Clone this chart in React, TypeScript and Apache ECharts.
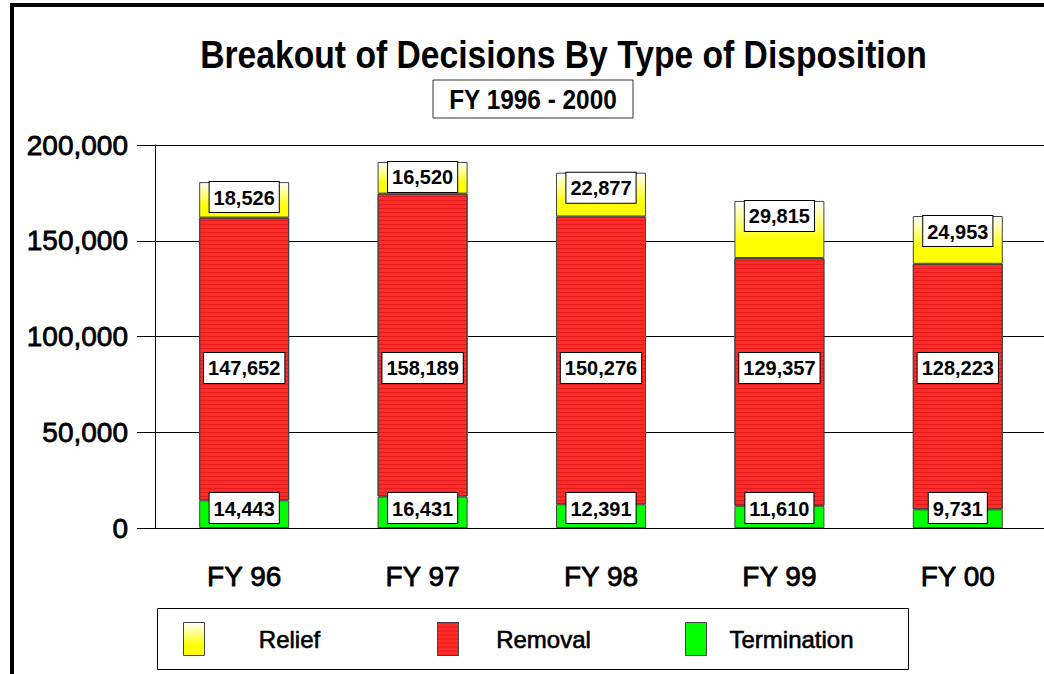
import React, { useEffect, useRef } from "react";
import * as echarts from "echarts";

const categories = ["FY 96", "FY 97", "FY 98", "FY 99", "FY 00"];
const relief = [18526, 16520, 22877, 29815, 24953];
const removal = [147652, 158189, 150276, 129357, 128223];
const termination = [14443, 16431, 12391, 11610, 9731];
const seriesNames = ["Relief", "Removal", "Termination"];
const yMin = 0;
const yMax = 200000;
const yInterval = 50000;
const titleText = "Breakout of Decisions By Type of Disposition";
const subtitleText = "FY 1996 - 2000";
// value level at which the reference places the Removal labels
const removalLabelLevel = 83500;

const FONT = '"Liberation Sans", Arial, sans-serif';

function measure(text: string, font: string): number {
  const c = document.createElement("canvas").getContext("2d");
  if (!c) return text.length * 20;
  c.font = font;
  return c.measureText(text).width;
}

const fmt = (v: number) => v.toLocaleString("en-US");

const labelBox = {
  show: true,
  color: "#000",
  fontFamily: FONT,
  fontWeight: "bold" as const,
  fontSize: 20,
  lineHeight: 23,
  backgroundColor: "#fff",
  borderColor: "#000",
  borderWidth: 1,
  padding: [4, 4, 3, 4],
  formatter: (p: any) => fmt(p.value),
};

const legendLefts = [183, 437, 685];

export default function App() {
  const ref = useRef<HTMLDivElement>(null);
  useEffect(() => {
    if (!ref.current) return;
    const chart = echarts.init(ref.current, null, { renderer: "svg" });
    const titleFont = `bold 38px ${FONT}`;
    const titleScale = 727 / measure(titleText, titleFont);
    const subFont = `bold 27px ${FONT}`;
    const subScale = 168 / measure(subtitleText, subFont);

    const reliefGrad = new echarts.graphic.LinearGradient(0, 0, 0, 1, [
      { offset: 0, color: "#ffffff" },
      { offset: 0.7, color: "#ffff00" },
      { offset: 1, color: "#ffff00" },
    ]);

    const buildOption = (removalOffsets: number[]) => ({
      animation: false,
      backgroundColor: "#fff",
      textStyle: { fontFamily: FONT },
      graphic: [
        {
          type: "rect",
          shape: { x: 12, y: 5, width: 1200, height: 900 },
          style: { fill: "none", stroke: "#000", lineWidth: 4 },
          silent: true,
        },
        {
          type: "text",
          x: 563.5,
          y: 55,
          scaleX: titleScale,
          style: {
            text: titleText,
            font: titleFont,
            fill: "#000",
            textAlign: "center",
            textVerticalAlign: "middle",
          },
        },
        {
          type: "rect",
          shape: { x: 433, y: 80, width: 200, height: 38 },
          style: { fill: "#fff", stroke: "#333", lineWidth: 1 },
        },
        {
          type: "text",
          x: 533,
          y: 100,
          scaleX: subScale,
          style: {
            text: subtitleText,
            font: subFont,
            fill: "#000",
            textAlign: "center",
            textVerticalAlign: "middle",
          },
        },
        {
          type: "rect",
          z: -1,
          shape: { x: 157.5, y: 608.5, width: 751, height: 61 },
          style: { fill: "#fff", stroke: "#000", lineWidth: 1 },
          silent: true,
        },
      ],
      legend: seriesNames.map((name, i) => ({
        data: [name],
        left: legendLefts[i],
        top: 622,
        padding: 0,
        itemWidth: 21,
        itemHeight: 33,
        icon: "rect",
        itemStyle: { borderColor: "#444", borderWidth: 1 },
        formatter: "{a|{name}}",
        textStyle: {
          rich: {
            a: {
              width: 160,
              align: "center",
              fontSize: 24,
              fontFamily: FONT,
              color: "#000",
              textBorderColor: "#000",
              textBorderWidth: 0.6,
            },
          },
        },
      })),
      grid: {
        left: 155,
        top: 145,
        bottom: 146,
        right: -3,
        containLabel: false,
        outerBoundsMode: "none",
      },
      xAxis: {
        type: "category",
        data: categories,
        axisLine: { lineStyle: { color: "#000", width: 1 } },
        axisTick: { alignWithLabel: true, length: 19, lineStyle: { color: "#000" } },
        axisLabel: {
          margin: 34,
          fontSize: 28,
          fontFamily: FONT,
          color: "#000",
          textBorderColor: "#000",
          textBorderWidth: 0.8,
        },
      },
      yAxis: {
        type: "value",
        min: yMin,
        max: yMax,
        interval: yInterval,
        axisLine: { show: true, lineStyle: { color: "#000", width: 1 } },
        axisTick: { show: true, length: 18, lineStyle: { color: "#000" } },
        splitLine: { show: true, lineStyle: { color: "#000", width: 1 } },
        axisLabel: {
          margin: 27,
          fontSize: 28,
          fontFamily: FONT,
          color: "#000",
          textBorderColor: "#000",
          textBorderWidth: 0.8,
          formatter: (v: number) => fmt(v),
        },
      },
      series: [
        {
          name: "Termination",
          type: "bar",
          stack: "total",
          barWidth: 90,
          data: termination,
          itemStyle: { color: "#00ff00", borderColor: "#444", borderWidth: 1 },
          label: { ...labelBox, position: "insideBottom", distance: 5 },
        },
        {
          name: "Removal",
          type: "bar",
          stack: "total",
          barWidth: 90,
          data: removal.map((v, i) => ({
            value: v,
            label: { offset: [0, removalOffsets[i] || 0] },
          })),
          itemStyle: {
            color: "#ff2a2a",
            borderColor: "#444",
            borderWidth: 1,
            decal: {
              symbol: "rect",
              symbolSize: 1,
              dashArrayX: [1, 0],
              dashArrayY: [1, 3],
              color: "rgba(170,0,0,0.35)",
              rotation: 0,
            },
          },
          label: { ...labelBox, position: "inside" },
        },
        {
          name: "Relief",
          type: "bar",
          stack: "total",
          barWidth: 90,
          data: relief,
          itemStyle: { color: reliefGrad, borderColor: "#444", borderWidth: 1 },
          label: { ...labelBox, position: "insideTop", distance: 0 },
        },
      ],
    });

    chart.setOption(buildOption([]));
    const py = (v: number) => chart.convertToPixel({ yAxisIndex: 0 }, v) as number;
    const offsets = removal.map((v, i) => {
      const mid = termination[i] + v / 2;
      return py(removalLabelLevel) - py(mid);
    });
    chart.setOption(buildOption(offsets));
    return () => chart.dispose();
  }, []);
  return (
    <div
      ref={ref}
      style={{ position: "fixed", left: 0, top: 0, width: 1044, height: 674 }}
    />
  );
}
